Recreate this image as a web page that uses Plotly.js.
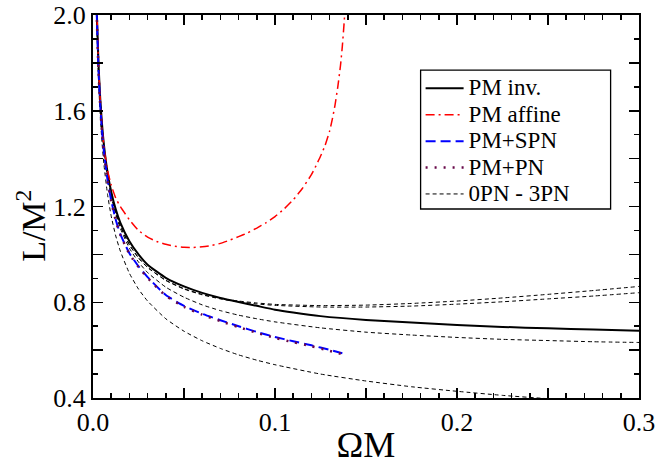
<!DOCTYPE html>
<html>
<head>
<meta charset="utf-8">
<script src="https://cdn.plot.ly/plotly-3.0.1.min.js"></script>
<style>
html,body{margin:0;padding:0;background:#fff;}
#plot{width:657px;height:465px;}
#plot .legend .legendtext{font-size:23px !important;}
#plot .legend .scrollbox, #plot .legend{clip-path:none !important;}
</style>
</head>
<body>
<div id="plot"></div>
<script>
// ---- data ----
const omegaPN = [0.002,0.003,0.004,0.005,0.006,0.008,0.01,0.0125,0.015,0.02,0.025,0.03,0.04,0.05,0.06,0.07,0.08,0.09,0.1,0.125,0.15,0.175,0.2,0.225,0.25,0.275,0.3];
const pn0 = [1.984,1.733,1.575,1.462,1.376,1.250,1.160,1.077,1.014,0.921,0.855,0.805,0.731,0.679,0.639,0.607,0.580,0.558,0.539,0.500,0.471,0.447,0.428,0.411,0.397,0.385,0.374];
const pn1 = [2.033,1.789,1.636,1.528,1.446,1.327,1.244,1.167,1.109,1.026,0.968,0.924,0.863,0.821,0.789,0.765,0.746,0.731,0.718,0.693,0.675,0.663,0.653,0.645,0.640,0.635,0.632];
const pn2 = [2.034,1.791,1.639,1.531,1.450,1.333,1.251,1.175,1.119,1.040,0.985,0.945,0.891,0.855,0.831,0.814,0.802,0.793,0.787,0.780,0.780,0.784,0.792,0.802,0.814,0.826,0.840];
const pn3 = [2.034,1.791,1.639,1.531,1.450,1.333,1.251,1.176,1.119,1.040,0.986,0.946,0.892,0.857,0.833,0.816,0.805,0.797,0.791,0.786,0.788,0.795,0.805,0.818,0.833,0.849,0.866];

const omegaInv = [0.002,0.003,0.004,0.005,0.006,0.008,0.01,0.0125,0.015,0.02,0.025,0.03,0.04,0.05,0.06,0.07,0.08,0.09,0.1,0.11,0.125,0.15,0.175,0.2,0.225,0.25,0.275,0.3];
const pmInv = [2.035,1.800,1.648,1.540,1.458,1.342,1.262,1.188,1.133,1.055,1.000,0.957,0.902,0.866,0.839,0.818,0.801,0.785,0.769,0.757,0.742,0.726,0.715,0.705,0.697,0.691,0.686,0.681];

const omegaAff = [0.002,0.003,0.004,0.005,0.006,0.008,0.01,0.0125,0.015,0.02,0.025,0.03,0.035,0.04,0.045,0.05,0.055,0.06,0.065,0.07,0.075,0.08,0.085,0.09,0.095,0.1,0.105,0.11,0.115,0.12,0.1225,0.125,0.1275,0.13,0.1315,0.133,0.1345,0.136,0.137,0.138,0.1385];
const pmAffine = [2.06,1.80,1.64,1.53,1.45,1.35,1.29,1.235,1.20,1.145,1.100,1.072,1.054,1.042,1.034,1.030,1.029,1.032,1.037,1.046,1.059,1.074,1.090,1.110,1.132,1.158,1.190,1.228,1.275,1.333,1.370,1.410,1.455,1.515,1.565,1.625,1.700,1.790,1.870,1.970,2.030];

const omegaS = [0.002,0.003,0.004,0.005,0.006,0.008,0.01,0.0125,0.015,0.02,0.025,0.03,0.04,0.05,0.06,0.07,0.08,0.09,0.1,0.11,0.12,0.13,0.137];
const pmSPN = [2.02,1.775,1.62,1.51,1.43,1.31,1.225,1.145,1.085,1.005,0.950,0.905,0.830,0.785,0.752,0.725,0.700,0.676,0.655,0.637,0.620,0.601,0.587];
const pmPN  = [2.017,1.772,1.617,1.507,1.427,1.307,1.222,1.142,1.082,1.002,0.947,0.902,0.827,0.781,0.748,0.721,0.696,0.672,0.651,0.633,0.616,0.597,0.583];

const xTickVals = [0,0.05,0.1,0.15,0.2,0.25,0.3];
const xTickText = ["0.0","","0.1","","0.2","","0.3"];
const yTickVals = [0.4,0.6,0.8,1.0,1.2,1.4,1.6,1.8,2.0];
const yTickText = ["0.4","","0.8","","1.2","","1.6","","2.0"];

const serif = "Liberation Serif";
const smooth = {shape:"spline", smoothing:0.5};
const pnDash = Object.assign({color:"#000", width:1, dash:"4px,3px"}, smooth);

const traces = [
  {x:omegaPN, y:pn0, mode:"lines", line:pnDash, name:"0PN - 3PN", legendgroup:"pn", showlegend:true, legendrank:5},
  {x:omegaPN, y:pn1, mode:"lines", line:pnDash, name:"1PN", legendgroup:"pn", showlegend:false},
  {x:omegaPN, y:pn2, mode:"lines", line:pnDash, name:"2PN", legendgroup:"pn", showlegend:false},
  {x:omegaPN, y:pn3, mode:"lines", line:pnDash, name:"3PN", legendgroup:"pn", showlegend:false},
  {x:omegaInv, y:pmInv, mode:"lines", line:Object.assign({color:"#000", width:2}, smooth), name:"PM inv.", legendrank:1},
  {x:omegaAff, y:pmAffine, mode:"lines", line:Object.assign({color:"#ff0000", width:1.5, dash:"9px,4px,2px,4px"}, smooth), name:"PM affine", legendrank:2},
  {x:omegaS, y:pmSPN, mode:"lines", line:Object.assign({color:"#0000ff", width:2, dash:"10px,5px"}, smooth), name:"PM+SPN", legendrank:3},
  {x:omegaS, y:pmPN, mode:"lines", line:Object.assign({color:"#670748", width:2.5, dash:"2px,7px"}, smooth), name:"PM+PN", legendrank:4}
];

const layout = {
  width:657, height:465,
  margin:{l:93, r:18, t:15, b:67},
  paper_bgcolor:"#fff", plot_bgcolor:"#fff",
  showlegend:true,
  font:{family:serif, color:"#000"},
  xaxis:{
    range:[0,0.3], showgrid:false, zeroline:false,
    showline:true, linecolor:"#000", linewidth:2, mirror:"allticks",
    tickmode:"array", tickvals:xTickVals, ticktext:xTickText,
    ticks:"inside", ticklen:10, tickwidth:1.5, tickcolor:"#000",
    minor:{tickmode:"linear", tick0:0, dtick:0.01, ticks:"inside", ticklen:5, tickwidth:1.5, tickcolor:"#000", showgrid:false},
    tickfont:{family:serif, size:26, color:"#000"},
    title:{text:"ΩM", font:{family:serif, size:36, color:"#000"}, standoff:9}
  },
  yaxis:{
    range:[0.4,2.0], showgrid:false, zeroline:false,
    showline:true, linecolor:"#000", linewidth:2, mirror:"allticks",
    tickmode:"array", tickvals:yTickVals, ticktext:yTickText,
    ticks:"inside", ticklen:10, tickwidth:1.5, tickcolor:"#000",
    minor:{tickmode:"linear", tick0:0.4, dtick:0.1, ticks:"inside", ticklen:5, tickwidth:1.5, tickcolor:"#000", showgrid:false},
    tickfont:{family:serif, size:26, color:"#000"}
  },
  annotations:[
    {text:"L/M<sup>2</sup>", xref:"paper", yref:"paper", x:-0.115, y:0.45, xanchor:"center", yanchor:"middle",
     textangle:-90, showarrow:false, font:{family:serif, size:34, color:"#000"}}
  ],
  legend:{
    x:0.6, y:0.856, xanchor:"left", yanchor:"top",
    bgcolor:"rgba(0,0,0,0)", borderwidth:0,
    font:{family:serif, size:18, color:"#000"},
    itemwidth:38, traceorder:"normal"
  },
  shapes:[
    {type:"rect", xref:"paper", yref:"paper", x0:0.600, x1:0.948, y0:0.4935, y1:0.856,
     line:{color:"#000", width:1.3}, fillcolor:"#fff", layer:"below"}
  ]
};

Plotly.newPlot("plot", traces, layout, {staticPlot:true, displayModeBar:false});
</script>
</body>
</html>
